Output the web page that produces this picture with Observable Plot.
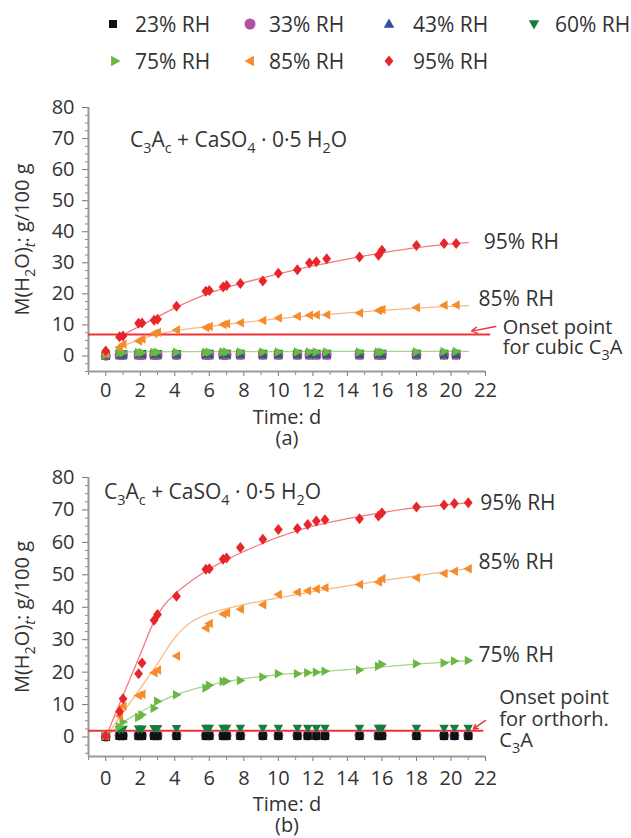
<!DOCTYPE html>
<html><head><meta charset="utf-8">
<script src="https://cdn.jsdelivr.net/npm/d3@7"></script>
<script src="https://cdn.jsdelivr.net/npm/@observablehq/plot@0.6"></script>
<style>
body{margin:0;background:#fff;font-family:"Open Sans",sans-serif;color:#333;}
#wrap{position:relative;width:631px;height:838px;overflow:hidden;background:#fff;}
.lg-sym{position:absolute;width:20px;height:20px;}
.lg-txt{position:absolute;font-size:21px;line-height:24px;white-space:nowrap;color:#333;}
.panel{position:absolute;left:0;}
</style></head><body><div id="wrap"></div>
<script>
// ---------- legend / series definitions ----------
const rhLabels = ["23% RH", "33% RH", "43% RH", "60% RH", "75% RH", "85% RH", "95% RH"];
const rhColors = ["#111111", "#b3509f", "#2f4f9f", "#1b7b3a", "#6ab744", "#f58b2b", "#e8252b"];

// ---------- panel (a) data ----------
const timeA = [0, 0.8, 1.0, 1.9, 2.1, 2.8, 3.0, 4.1, 5.8, 6.0, 6.8, 7.0, 7.8, 9.1, 10.0, 11.1, 11.8, 12.2, 12.8, 14.7, 15.8, 16.0, 18.0, 19.6, 20.3];
const a23 = [0.0, 0.2, 0.2, 0.2, 0.2, 0.2, 0.2, 0.2, 0.2, 0.2, 0.2, 0.2, 0.2, 0.2, 0.2, 0.2, 0.2, 0.2, 0.2, 0.2, 0.2, 0.2, 0.2, 0.2, 0.2];
const a33 = [0.1, 0.3, 0.3, 0.3, 0.3, 0.3, 0.3, 0.3, 0.4, 0.4, 0.4, 0.4, 0.4, 0.4, 0.4, 0.4, 0.4, 0.4, 0.4, 0.4, 0.4, 0.4, 0.4, 0.4, 0.4];
const a43 = [0.1, 0.4, 0.4, 0.5, 0.5, 0.5, 0.5, 0.5, 0.5, 0.5, 0.5, 0.5, 0.5, 0.5, 0.5, 0.5, 0.5, 0.5, 0.5, 0.5, 0.5, 0.5, 0.5, 0.5, 0.5];
const a60 = [0.2, 0.7, 0.7, 0.8, 0.8, 0.8, 0.8, 0.8, 0.9, 0.9, 0.9, 0.9, 0.9, 0.9, 0.9, 0.9, 0.9, 0.9, 0.9, 0.9, 0.9, 0.9, 0.9, 0.9, 0.9];
const a75 = [0.3, 1.0, 1.0, 1.1, 1.1, 1.2, 1.2, 1.2, 1.2, 1.2, 1.3, 1.3, 1.3, 1.3, 1.3, 1.3, 1.3, 1.3, 1.3, 1.3, 1.3, 1.3, 1.3, 1.4, 1.4];
const a85 = [0.6, 2.8, 3.8, 4.8, 5.5, 7.2, 7.6, 8.4, 9.2, 9.5, 10.1, 10.4, 10.7, 11.4, 12.2, 12.8, 13.1, 13.2, 13.3, 13.8, 14.6, 15.0, 15.6, 16.3, 16.4];
const a95 = [1.6, 6.2, 6.4, 10.5, 10.6, 11.5, 11.8, 16.0, 20.8, 21.1, 22.2, 22.7, 23.3, 24.1, 26.6, 27.8, 29.9, 30.3, 31.3, 31.9, 32.4, 34.0, 35.6, 36.2, 36.2];
// fitted curves
const fitA75 = [[0.6, 1.3], [5, 1.4], [10, 1.4], [15, 1.5], [21, 1.5]];
const fitA85 = [[0.6, 2.3], [1, 3.3], [2, 5.3], [3, 7.0], [4, 8.1], [6, 9.5], [8, 10.8], [10, 12.0], [12, 13.0], [14, 13.9], [16, 14.7], [18, 15.4], [20, 16.0], [21, 16.2]];
const fitA95 = [[0.6, 5.6], [1, 6.8], [2, 9.7], [3, 12.6], [4, 15.4], [6, 20.2], [8, 23.6], [10, 26.4], [12, 29.0], [14, 31.2], [16, 33.2], [18, 34.9], [20, 36.1], [21, 36.5]];
const onsetA = 6.9;

// ---------- panel (b) data ----------
const timeB = [0, 0.8, 1.0, 1.9, 2.1, 2.8, 3.0, 4.1, 5.8, 6.0, 6.8, 7.0, 7.8, 9.1, 10.0, 11.1, 11.7, 12.2, 12.7, 14.7, 15.8, 16.0, 18.0, 19.6, 20.2, 21.0];
const b23 = [0.0, 0.3, 0.3, 0.3, 0.3, 0.3, 0.3, 0.3, 0.3, 0.3, 0.3, 0.3, 0.3, 0.3, 0.3, 0.3, 0.3, 0.3, 0.3, 0.3, 0.3, 0.3, 0.3, 0.3, 0.3, 0.3];
const b33 = [0.1, 0.5, 0.5, 0.5, 0.5, 0.5, 0.5, 0.5, 0.5, 0.5, 0.5, 0.5, 0.5, 0.5, 0.5, 0.5, 0.5, 0.5, 0.5, 0.5, 0.5, 0.5, 0.5, 0.5, 0.5, 0.5];
const b43 = [0.1, 0.4, 0.4, 0.4, 0.4, 0.4, 0.4, 0.4, 0.4, 0.4, 0.4, 0.4, 0.4, 0.4, 0.4, 0.4, 0.4, 0.4, 0.4, 0.4, 0.4, 0.4, 0.4, 0.4, 0.4, 0.4];
const b60 = [0.3, 2.3, 2.4, 2.5, 2.5, 2.6, 2.6, 2.6, 2.7, 2.7, 2.7, 2.7, 2.7, 2.7, 2.7, 2.7, 2.7, 2.7, 2.7, 2.7, 2.7, 2.7, 2.7, 2.7, 2.7, 2.7];
const b75 = [0.3, 3.2, 4.6, 6.0, 6.9, 8.9, 11.0, 13.0, 15.1, 16.0, 17.1, 17.2, 17.4, 18.5, 19.5, 19.5, 19.8, 20.0, 20.3, 20.7, 21.8, 22.4, 22.6, 22.8, 23.4, 23.6];
const b85 = [0.3, 6.5, 9.5, 12.8, 13.2, 19.8, 20.7, 25.0, 33.6, 35.0, 37.9, 38.3, 39.4, 40.8, 43.9, 44.6, 45.1, 45.6, 46.0, 47.0, 47.8, 48.8, 49.1, 50.4, 51.1, 51.9];
const b95 = [0.3, 7.9, 11.8, 19.5, 22.8, 36.0, 37.8, 43.4, 51.7, 51.9, 54.8, 55.2, 58.4, 61.0, 64.0, 64.3, 65.5, 66.6, 67.0, 67.3, 68.1, 69.1, 70.9, 71.5, 72.0, 72.2];
const fitB75 = [[0, 0], [1, 4.5], [2, 7.7], [3, 10.5], [4, 12.9], [5, 14.6], [6, 16.0], [7, 17.1], [8, 18.0], [10, 19.2], [12, 20.0], [14, 20.8], [16, 21.6], [18, 22.5], [20, 23.2], [21, 23.6]];
const fitB85 = [[0, 0], [1, 7.6], [2, 15.0], [2.7, 20.3], [3, 22.6], [3.5, 26.8], [4, 30.6], [4.5, 33.5], [5, 35.6], [5.5, 37.0], [6, 38.1], [7, 39.6], [8, 40.8], [10, 42.9], [12, 44.8], [14, 46.6], [16, 48.2], [18, 49.7], [20, 51.2], [21, 51.9]];
const fitB95 = [[0, 0], [1, 12.8], [2, 25.5], [2.7, 34.5], [3.2, 39.3], [4, 44.0], [5, 48.3], [6, 51.8], [7, 54.7], [8, 57.2], [9, 59.5], [10, 61.6], [11, 63.4], [12, 65.0], [14, 67.3], [16, 69.2], [18, 70.7], [20, 71.7], [21, 72.2]];
const onsetB = 1.9;

// ---------- ticks and texts ----------
const yMajor = d3.range(0, 81, 10);
const yMinor = d3.range(-5, 80, 2.5).filter(v => v % 10 !== 0);
const xMajor = d3.range(0, 23, 2);
const xMinor = d3.range(-1, 23, 1).filter(v => v % 2 !== 0);
const yTitle = "M(H~2O)^t: g/100 g";
const xTitle = "Time: d";
const annoText = "C~3A~c + CaSO~4 · 0·5 H~2O";
const labelsA = [
  {x: 21.9, y: 36.6, text: "95% RH"},
  {x: 21.6, y: 18.4, text: "85% RH"}
];
const onsetTextA = {x: 23.0, y: 5.9, text: "Onset point\nfor cubic C~3A"};
const labelsB = [
  {x: 21.7, y: 72.0, text: "95% RH"},
  {x: 21.6, y: 54.0, text: "85% RH"},
  {x: 21.6, y: 25.2, text: "75% RH"}
];
const onsetTextB = {x: 22.8, y: 5.6, text: "Onset point\nfor orthorh.\nC~3A"};

// ---------- symbols ----------
const rad = s => Math.sqrt(s / Math.PI);
const symSquare = {draw(c, s) { const h = rad(s) * 0.8; c.rect(-h, -h, 2 * h, 2 * h); }};
const symCircle = {draw(c, s) { const r = rad(s); c.moveTo(r, 0); c.arc(0, 0, r, 0, 2 * Math.PI); }};
const symUp = {draw(c, s) { const r = rad(s); c.moveTo(0, -r); c.lineTo(0.95 * r, 0.7 * r); c.lineTo(-0.95 * r, 0.7 * r); c.closePath(); }};
const symDown = {draw(c, s) { const r = rad(s); c.moveTo(0, r); c.lineTo(0.95 * r, -0.7 * r); c.lineTo(-0.95 * r, -0.7 * r); c.closePath(); }};
const symRight = {draw(c, s) { const r = rad(s); c.moveTo(r, 0); c.lineTo(-0.7 * r, -0.95 * r); c.lineTo(-0.7 * r, 0.95 * r); c.closePath(); }};
const symLeft = {draw(c, s) { const r = rad(s); c.moveTo(-r, 0); c.lineTo(0.7 * r, -0.95 * r); c.lineTo(0.7 * r, 0.95 * r); c.closePath(); }};
const symDiamond = {draw(c, s) { const r = rad(s); c.moveTo(0, -r); c.lineTo(0.8 * r, 0); c.lineTo(0, r); c.lineTo(-0.8 * r, 0); c.closePath(); }};
const rhSymbols = [symSquare, symCircle, symUp, symDown, symRight, symLeft, symDiamond];

const FONT = '"Open Sans", sans-serif';
const wrap = document.getElementById("wrap");

// ---------- legend ----------
const legPos = [[113, 24, 135], [250, 24, 269], [389, 24, 413], [534, 24, 555], [115, 61, 135], [250, 61, 269], [389, 61, 413]];
const legR = [5, 5.5, 5.5, 5.5, 5.5, 5.5, 5.5];
rhLabels.forEach((lab, i) => {
  const [cx, cy, tx] = legPos[i];
  const p = d3.path();
  rhSymbols[i].draw(p, Math.PI * legR[i] * legR[i]);
  const s = document.createElementNS("http://www.w3.org/2000/svg", "svg");
  s.setAttribute("class", "lg-sym");
  s.setAttribute("viewBox", "-10 -10 20 20");
  s.style.left = (cx - 10) + "px"; s.style.top = (cy - 10) + "px";
  const path = document.createElementNS("http://www.w3.org/2000/svg", "path");
  path.setAttribute("d", p.toString()); path.setAttribute("fill", rhColors[i]);
  s.appendChild(path); wrap.appendChild(s);
  const t = document.createElement("div");
  t.className = "lg-txt"; t.textContent = lab;
  t.style.left = tx + "px"; t.style.top = (cy - 12) + "px";
  wrap.appendChild(t);
});

// ---------- helpers ----------
const tbl = (xs, ys) => xs.map((x, i) => ({x, y: ys[i]}));
const NS = "http://www.w3.org/2000/svg";
function richNode(node, fs) {
  const s = node.textContent;
  if (!/[~^]/.test(s)) return;
  while (node.firstChild) node.removeChild(node.firstChild);
  const shift = fs * 0.3, sub = fs * 0.72;
  let low = false, buf = "";
  const push = (t, isSub, ital) => {
    const ts = document.createElementNS(NS, "tspan");
    ts.textContent = t;
    if (isSub) {
      ts.setAttribute("font-size", sub);
      if (!low) { ts.setAttribute("dy", shift); low = true; }
      if (ital) ts.setAttribute("font-style", "italic");
    } else if (low) { ts.setAttribute("dy", -shift); low = false; }
    node.appendChild(ts);
  };
  for (let i = 0; i < s.length; i++) {
    const c = s[i];
    if (c === "~" || c === "^") { if (buf) { push(buf, false); buf = ""; } push(s[i + 1], true, c === "^"); i++; }
    else buf += c;
  }
  if (buf) push(buf, false);
}
function rich(el, fs) {
  const lines = el.querySelectorAll(":scope > tspan");
  if (lines.length) lines.forEach(l => richNode(l, fs)); else richNode(el, fs);
}

function panel(cfg) {
  const y0 = cfg.yMin;
  const marks = [
    Plot.axisY({ticks: yMinor, tickSize: 3, tickFormat: () => "", stroke: "#888", label: null}),
    Plot.axisY({ticks: yMajor, tickSize: 6, tickPadding: 8, stroke: "#777", fill: "#333", label: null}),
    Plot.axisX({ticks: xMinor, tickSize: 4, tickFormat: () => "", stroke: "#888", label: null}),
    Plot.axisX({ticks: xMajor, tickSize: 5, tickPadding: cfg.xPad, stroke: "#777", fill: "#333", label: null}),
    Plot.ruleX([-1], {stroke: "#999", strokeWidth: 2}),
    Plot.ruleY([y0], {stroke: "#999", strokeWidth: 2})
  ];
  cfg.fits.forEach(([pts, k]) => marks.push(Plot.line(pts, {x: d => d[0], y: d => d[1], stroke: rhColors[k], strokeWidth: 1.3, strokeOpacity: 0.6, curve: "monotone-x"})));
  marks.push(Plot.ruleY([cfg.onset], {x1: -1, x2: cfg.onsetEnd, stroke: "#ee3338", strokeWidth: 2}));
  marks.push(Plot.arrow([cfg.arrow], {x1: "x1", y1: "y1", x2: "x2", y2: "y2", stroke: "#ee3338", strokeWidth: 1.5, headLength: 6}));
  cfg.order.forEach(([vals, k]) => marks.push(Plot.dot(tbl(cfg.time, vals), {x: "x", y: "y", symbol: rhSymbols[k], fill: rhColors[k], r: k === 6 ? 5.5 : 5})));
  marks.push(Plot.text([{x: cfg.anno[0], y: cfg.anno[1], text: annoText}], {x: "x", y: "y", text: "text", textAnchor: "start", lineAnchor: "middle", fill: "#333", fontSize: 21}));
  marks.push(Plot.text(cfg.labels, {x: "x", y: "y", text: "text", textAnchor: "start", lineAnchor: "middle", fill: "#333", fontSize: 21}));
  marks.push(Plot.text([cfg.onsetText], {x: "x", y: "y", text: "text", textAnchor: "start", lineAnchor: "middle", lineHeight: cfg.onsetLH, fill: "#333", fontSize: 20}));
  marks.push(Plot.text([yTitle], {frameAnchor: "left", dx: -66, rotate: -90, textAnchor: "middle", lineAnchor: "middle", fill: "#333", fontSize: 20}));
  marks.push(Plot.text([xTitle + "\n" + cfg.caption], {frameAnchor: "bottom", dy: cfg.capDy, textAnchor: "middle", lineAnchor: "middle", lineHeight: 1.05, fill: "#333", fontSize: 20}));
  const svg = Plot.plot({
    width: 631, height: cfg.height,
    marginTop: cfg.mt, marginBottom: cfg.mb, marginLeft: 88, marginRight: 146,
    x: {domain: [-1, 22], axis: null},
    y: {domain: [y0, 80], axis: null},
    style: {fontFamily: FONT, fontSize: "20px", color: "#333", background: "transparent", overflow: "visible"},
    marks
  });
  svg.querySelectorAll("text").forEach(t => { if (t.textContent === "") t.remove(); });
  svg.querySelectorAll("text").forEach(t => rich(t, 20));
  return svg;
}

const svgA = panel({
  time: timeA, height: 369, mt: 17, mb: 88, yMin: -5, xPad: 6,
  fits: [[fitA75, 4], [fitA85, 5], [fitA95, 6]],
  onset: onsetA, onsetEnd: 22.3,
  arrow: {x1: 22.6, y1: 9.5, x2: 21.2, y2: 8.0},
  order: [[a23, 0], [a33, 1], [a43, 2], [a60, 3], [a75, 4], [a85, 5], [a95, 6]],
  anno: [1.4, 69.5], labels: labelsA, onsetText: onsetTextA, onsetLH: 1.0,
  capDy: 56, caption: "(a)"
});
const svgB = panel({
  time: timeB, height: 379, mt: 18, mb: 82, yMin: -6, xPad: 9,
  fits: [[fitB75, 4], [fitB85, 5], [fitB95, 6]],
  onset: onsetB, onsetEnd: 21.9,
  arrow: {x1: 22.0, y1: 5.1, x2: 21.3, y2: 2.5},
  order: [[b33, 1], [b43, 2], [b23, 0], [b60, 3], [b75, 4], [b85, 5], [b95, 6]],
  anno: [-0.1, 75.3], labels: labelsB, onsetText: onsetTextB, onsetLH: 1.08,
  capDy: 58, caption: "(b)"
});
const dA = document.createElement("div"); dA.className = "panel"; dA.style.top = "90px"; dA.appendChild(svgA); wrap.appendChild(dA);
const dB = document.createElement("div"); dB.className = "panel"; dB.style.top = "459px"; dB.appendChild(svgB); wrap.appendChild(dB);
</script></body></html>
